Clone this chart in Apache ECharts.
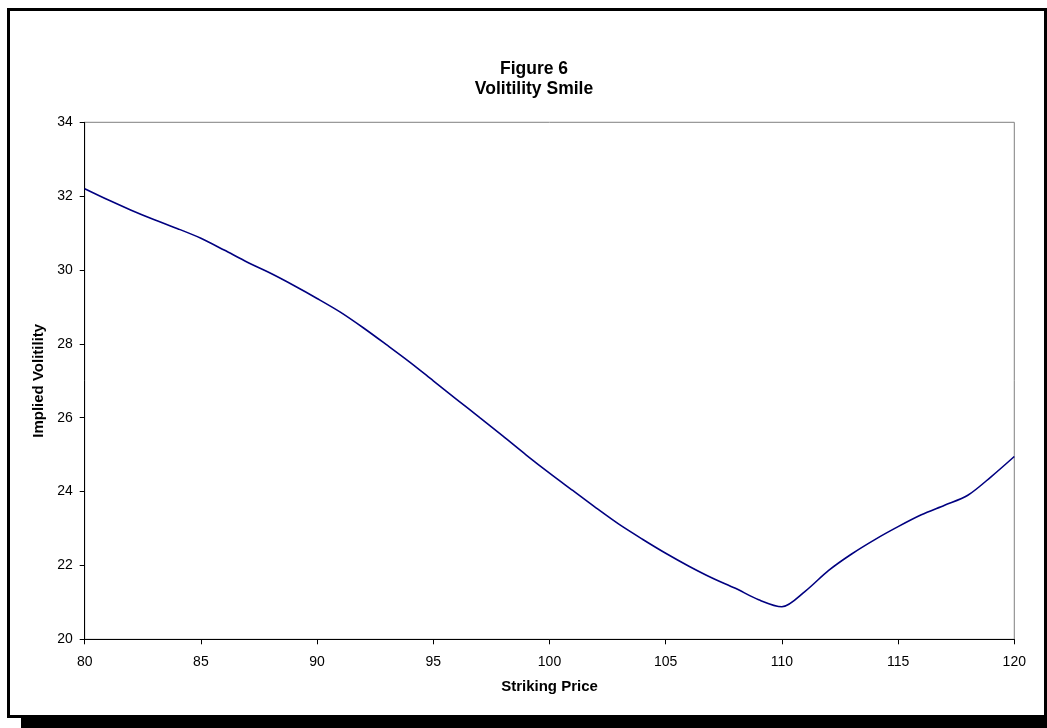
<!DOCTYPE html>
<html>
<head>
<meta charset="utf-8">
<script src="https://cdn.jsdelivr.net/npm/echarts@6/dist/echarts.min.js"></script>
<style>
html,body{margin:0;padding:0;background:#fff;}
#chart{width:1047px;height:728px;}
</style>
</head>
<body>
<div id="chart"></div>
<script>
const titleLines = ["Figure 6", "Volitility Smile"];
const xTitle = "Striking Price";
const yTitle = "Implied Volitility";
const strikes = [80,81,82,83,84,85,86,87,88,89,90,91,92,93,94,95,96,97,98,99,100,101,102,103,104,105,106,107,108,109,110,111,112,113,114,115,116,117,118,119,120];
const vols = [32.2,31.9,31.62,31.36,31.12,30.86,30.54,30.21,29.91,29.58,29.23,28.86,28.43,27.97,27.5,27.0,26.5,26.0,25.5,24.99,24.5,24.03,23.56,23.11,22.71,22.33,21.98,21.66,21.38,21.07,20.88,21.3,21.86,22.31,22.7,23.05,23.37,23.63,23.9,24.4,24.95];

const chart = echarts.init(document.getElementById('chart'), null, {renderer:'canvas'});
const font = 'Arial, "Liberation Sans", Helvetica, sans-serif';
chart.setOption({
  animation:false,
  backgroundColor:'#ffffff',
  title:{
    text: titleLines.join('\n'),
    left: 529, top: 54, textAlign:'center',
    textStyle:{fontFamily:font, fontWeight:'bold', fontSize:17.5, lineHeight:20, color:'#000'}
  },
  graphic:[
    {type:'rect', shape:{x:21, y:717, width:1030, height:12}, style:{fill:'#000'}, z:10},
    {type:'rect', shape:{x:8.5, y:9.5, width:1037, height:707}, style:{fill:'none', stroke:'#000', lineWidth:3}, z:10}
  ],
  grid:{left:84.7, right:32.7, top:122.3, bottom:88.7, show:true, borderColor:'#808080', borderWidth:1, backgroundColor:'#fff'},
  xAxis:{
    type:'value', min:80, max:120, interval:5,
    name:xTitle, nameLocation:'middle', nameGap:40,
    nameTextStyle:{fontFamily:font, fontWeight:'bold', fontSize:15, color:'#000'},
    axisLine:{show:true, lineStyle:{color:'#000', width:1}},
    axisTick:{show:true, length:5, inside:false, lineStyle:{color:'#000'}},
    axisLabel:{fontFamily:font, fontSize:14, color:'#000', margin:16},
    splitLine:{show:false}
  },
  yAxis:{
    type:'value', min:20, max:34, interval:2,
    name:yTitle, nameLocation:'middle', nameGap:36, nameRotate:90,
    nameTextStyle:{fontFamily:font, fontWeight:'bold', fontSize:15, color:'#000'},
    axisLine:{show:true, lineStyle:{color:'#000', width:1}},
    axisTick:{show:true, length:5, inside:false, lineStyle:{color:'#000'}},
    axisLabel:{fontFamily:font, fontSize:14, color:'#000', margin:12},
    splitLine:{show:false}
  },
  series:[{
    type:'line',
    data: strikes.map((s,i)=>[s, vols[i]]),
    smooth:0.3,
    symbol:'none',
    lineStyle:{color:'#000080', width:1.6},
    itemStyle:{color:'#000080'}
  }]
});
</script>
</body>
</html>
